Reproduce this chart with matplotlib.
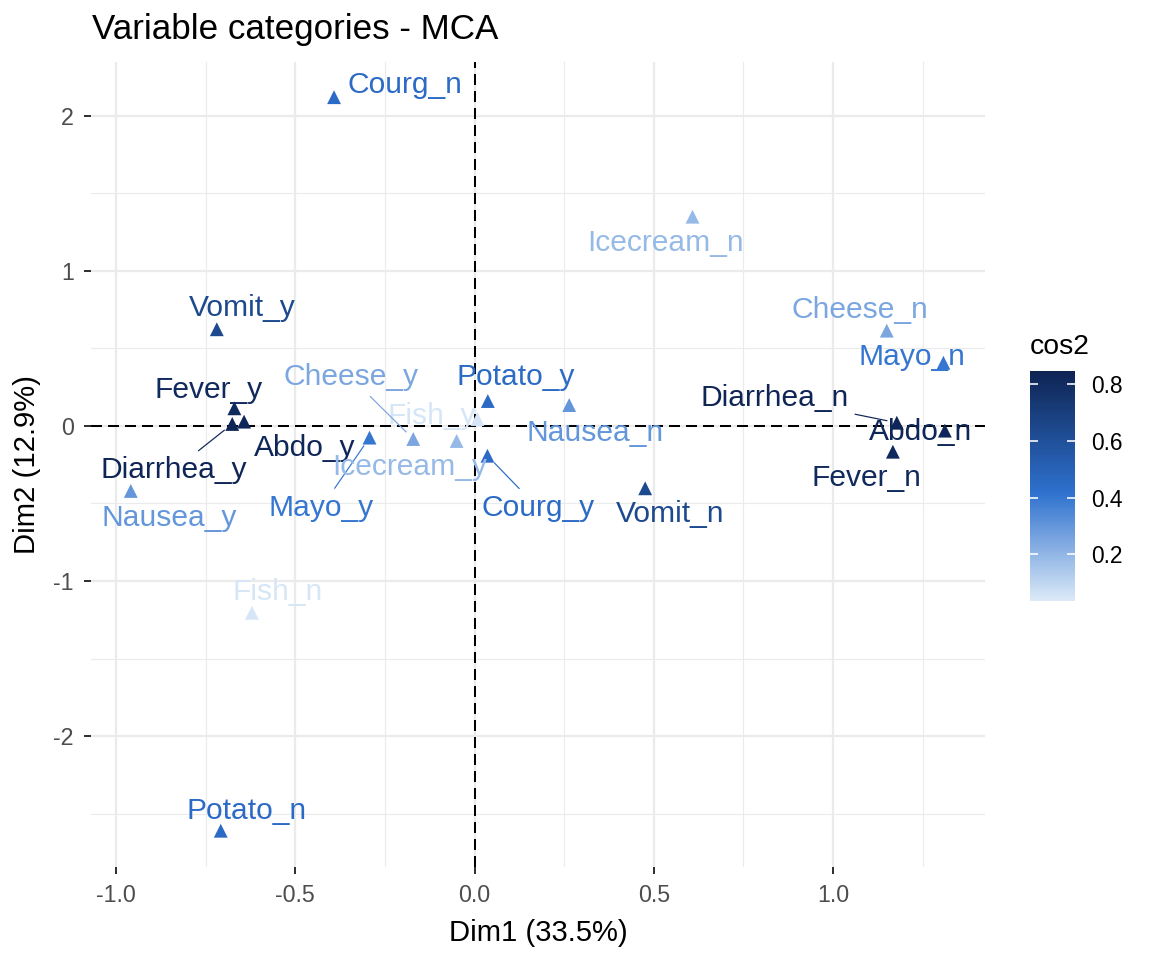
import matplotlib
matplotlib.use("Agg")
import matplotlib.pyplot as plt
import numpy as np
from matplotlib.colors import LinearSegmentedColormap, Normalize
from matplotlib.cm import ScalarMappable
from matplotlib.ticker import MultipleLocator

plt.rcParams['font.family'] = ['Liberation Sans', 'DejaVu Sans']

# ---- data ----
categories = ["Nausea_n", "Vomit_n", "Abdo_n", "Fever_n", "Diarrhea_n", "Potato_n",
              "Fish_n", "Mayo_n", "Courg_n", "Cheese_n", "Icecream_n",
              "Nausea_y", "Vomit_y", "Abdo_y", "Fever_y", "Diarrhea_y", "Potato_y",
              "Fish_y", "Mayo_y", "Courg_y", "Cheese_y", "Icecream_y"]
dim1 = [0.264, 0.476, 1.312, 1.167, 1.178, -0.708, -0.621, 1.308, -0.392, 1.150, 0.608,
        -0.959, -0.719, -0.643, -0.670, -0.676, 0.037, 0.008, -0.293, 0.036, -0.171, -0.050]
dim2 = [0.135, -0.402, -0.030, -0.166, 0.021, -2.611, -1.205, 0.408, 2.121, 0.615, 1.350,
        -0.419, 0.624, 0.028, 0.114, 0.013, 0.161, 0.045, -0.075, -0.192, -0.084, -0.097]
cos2 = [0.30, 0.64, 0.83, 0.81, 0.84, 0.45, 0.05, 0.40, 0.45, 0.25, 0.19,
        0.30, 0.64, 0.83, 0.81, 0.84, 0.45, 0.05, 0.40, 0.45, 0.25, 0.19]

x_ticks = [-1.0, -0.5, 0.0, 0.5, 1.0]
x_tick_labels = ["-1.0", "-0.5", "0.0", "0.5", "1.0"]
y_ticks = [-2, -1, 0, 1, 2]
y_tick_labels = ["-2", "-1", "0", "1", "2"]
cbar_ticks = [0.2, 0.4, 0.6, 0.8]

# ---- label placement (repelled positions, data coords) and which get segments ----
label_pos = {
    "Courg_n": (-0.194, 2.200), "Icecream_n": (0.533, 1.183), "Cheese_n": (1.075, 0.748),
    "Mayo_n": (1.220, 0.445), "Diarrhea_n": (0.838, 0.181), "Abdo_n": (1.245, -0.039),
    "Fever_n": (1.093, -0.335), "Vomit_n": (0.545, -0.568), "Nausea_n": (0.336, -0.045),
    "Potato_y": (0.116, 0.316), "Courg_y": (0.177, -0.529), "Fish_y": (-0.119, 0.065),
    "Icecream_y": (-0.180, -0.265), "Cheese_y": (-0.346, 0.316), "Mayo_y": (-0.428, -0.529),
    "Abdo_y": (-0.473, -0.142), "Diarrhea_y": (-0.838, -0.284), "Fever_y": (-0.743, 0.232),
    "Vomit_y": (-0.649, 0.761), "Nausea_y": (-0.852, -0.594), "Fish_n": (-0.549, -1.071),
    "Potato_n": (-0.636, -2.484),
}
with_segment = {"Cheese_y", "Mayo_y", "Diarrhea_y", "Courg_y", "Diarrhea_n"}

# ---- colours ----
cmap = LinearSegmentedColormap.from_list(
    "cos2", [(0.0, "#DCEAF7"), (0.47, "#2E71CE"), (1.0, "#0E2453")])
norm = Normalize(vmin=0.035, vmax=0.847)

W, H = 1152, 960
dpi = 144
fig = plt.figure(figsize=(W / dpi, H / dpi), dpi=dpi)
fig.patch.set_facecolor("white")

L, R, T, B = 91, 985, 62, 867
ax = fig.add_axes([L / W, 1 - B / H, (R - L) / W, (B - T) / H])
ax.set_xlim(-1.070, 1.424)
ax.set_ylim(-2.845, 2.348)

# grid
ax.set_xticks(x_ticks)
ax.set_xticklabels(x_tick_labels)
ax.set_yticks(y_ticks)
ax.set_yticklabels(y_tick_labels)
ax.xaxis.set_minor_locator(MultipleLocator(0.25))
ax.yaxis.set_minor_locator(MultipleLocator(0.5))
ax.grid(which="major", color="#EBEBEB", linewidth=1.1, zorder=0)
ax.grid(which="minor", color="#EBEBEB", linewidth=0.55, zorder=0)
ax.set_axisbelow(True)
for s in ax.spines.values():
    s.set_visible(False)
ax.tick_params(which="major", length=3.5, width=0.8, color="black",
               labelsize=11.6, labelcolor="#4D4D4D", pad=5)
ax.tick_params(which="minor", length=0)

ax.axhline(0, color="black", linewidth=1.0, linestyle=(0, (5.5, 3)), zorder=1)
ax.axvline(0, color="black", linewidth=1.0, linestyle=(0, (5.5, 3)), zorder=1)

colors = [cmap(norm(c)) for c in cos2]
ax.scatter(dim1, dim2, c=cos2, cmap=cmap, norm=norm, marker="^", s=48,
           linewidths=0, zorder=3)

for name, x, y, col in zip(categories, dim1, dim2, colors):
    tx, ty = label_pos[name]
    if name in with_segment:
        ax.annotate(name, xy=(x, y), xytext=(tx, ty), ha="center", va="center",
                    fontsize=15, color=col, zorder=4,
                    arrowprops=dict(arrowstyle="-", color=col, lw=0.6,
                                    shrinkA=1, shrinkB=5))
    else:
        ax.text(tx, ty, name, ha="center", va="center", fontsize=15,
                color=col, zorder=4)

ax.set_xlabel("Dim1 (33.5%)", fontsize=14.6, labelpad=6)
ax.set_ylabel("Dim2 (12.9%)", fontsize=14.6, labelpad=6)
fig.text(92 / W, 1 - 30 / H, "Variable categories - MCA", fontsize=17.5,
         ha="left", va="center")

# colour bar
cax = fig.add_axes([1030 / W, 1 - 601 / H, 45 / W, 230 / H])
sm = ScalarMappable(norm=norm, cmap=cmap)
cb = fig.colorbar(sm, cax=cax, ticks=cbar_ticks)
cb.outline.set_visible(False)
cax.tick_params(direction="in", length=4, width=0.8, color="white",
                labelsize=11.4, labelcolor="black", pad=8, left=True, right=True)
cax.set_yticklabels(["0.2", "0.4", "0.6", "0.8"])
fig.text(1030 / W, 1 - 347 / H, "cos2", fontsize=14.2, ha="left", va="center")

fig.savefig("out.png", dpi=dpi, facecolor="white")
